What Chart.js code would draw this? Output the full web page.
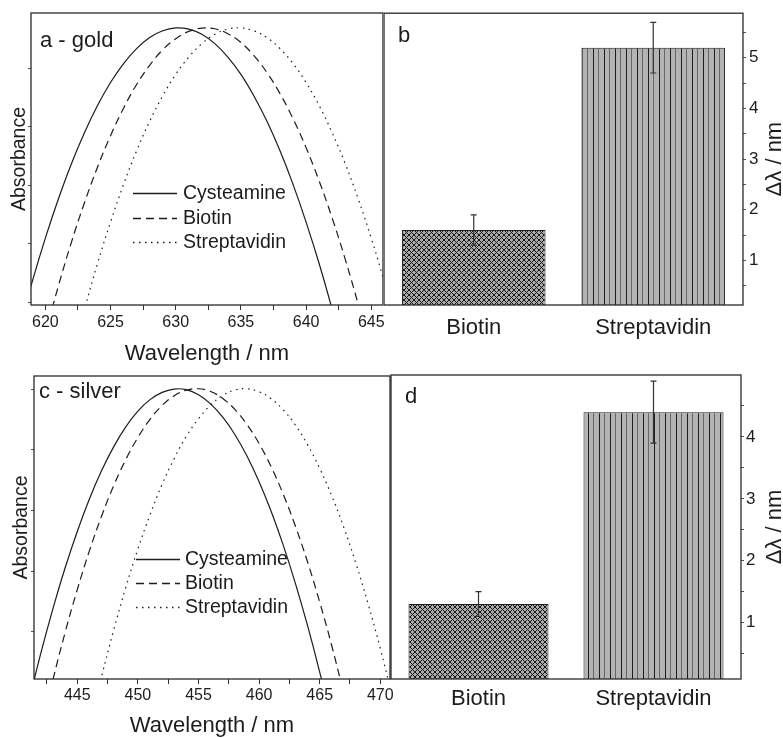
<!DOCTYPE html>
<html>
<head>
<meta charset="utf-8">
<title>Plasmon band shifts - gold and silver</title>
<script src="https://cdn.jsdelivr.net/npm/chart.js@4.4.0/dist/chart.umd.min.js"></script>
<style>
  html, body { margin:0; padding:0; background:#fff; }
  #wrap { position:relative; width:783px; height:738px; overflow:hidden; }
  canvas { position:absolute; }
</style>
</head>
<body>
<div id="wrap">
  <canvas id="goldSpec" width="392" height="370" style="left:0;top:0"></canvas>
  <canvas id="goldBars" width="399" height="370" style="left:384px;top:0"></canvas>
  <canvas id="silverSpec" width="400" height="368" style="left:0;top:370px"></canvas>
  <canvas id="silverBars" width="393" height="376" style="left:390px;top:362px"></canvas>
</div>
<script>
// ---- data ----
const seriesNames = ['Cysteamine', 'Biotin', 'Streptavidin'];

// gold spectra (absorbance, arbitrary units)
const goldWavelength = [618, 619, 620, 621, 622, 623, 624, 625, 626, 627, 628, 629, 630, 631, 632,
                        633, 634, 635, 636, 637, 638, 639, 640, 641, 642, 643, 644, 645, 646];
const goldCysteamine = [-0.081, 0.081, 0.229, 0.363, 0.484, 0.590, 0.683, 0.762, 0.827, 0.878, 0.916, 0.939, 0.949, 0.945, 0.927,
                        0.895, 0.849, 0.790, 0.716, 0.629, 0.528, 0.413, 0.284, 0.142, -0.015, -0.185, null, null, null];
const goldBiotin = [null, null, -0.098, 0.065, 0.215, 0.350, 0.472, 0.580, 0.674, 0.755, 0.821, 0.874, 0.912, 0.937, 0.948,
                    0.946, 0.929, 0.899, 0.854, 0.796, 0.724, 0.638, 0.539, 0.425, 0.298, 0.157, 0.002, -0.167, null];
const goldStreptavidin = [null, null, null, null, -0.185, -0.015, 0.142, 0.284, 0.413, 0.528, 0.629, 0.716, 0.790, 0.849, 0.895,
                          0.927, 0.945, 0.949, 0.939, 0.916, 0.878, 0.827, 0.762, 0.683, 0.590, 0.484, 0.363, 0.229, 0.081];
const goldXTicks = [620, 622.5, 625, 627.5, 630, 632.5, 635, 637.5, 640, 642.5, 645];
const goldYTicks = [0.01, 0.21, 0.41, 0.61, 0.81];

// silver spectra
const silverWavelength = [441, 442, 443, 444, 445, 446, 447, 448, 449, 450, 451, 452, 453, 454, 455, 456,
                          457, 458, 459, 460, 461, 462, 463, 464, 465, 466, 467, 468, 469, 470, 471];
const silverCysteamine = [-0.075, 0.086, 0.233, 0.367, 0.487, 0.594, 0.687, 0.766, 0.832, 0.884, 0.922, 0.946, 0.957, 0.955, 0.938, 0.908,
                          0.864, 0.807, 0.736, 0.651, 0.553, 0.441, 0.315, 0.176, 0.023, -0.144, null, null, null, null, null];
const silverBiotin = [null, -0.170, -0.001, 0.154, 0.295, 0.423, 0.537, 0.638, 0.724, 0.797, 0.857, 0.903, 0.935, 0.953, 0.958, 0.949,
                      0.926, 0.890, 0.840, 0.777, 0.700, 0.609, 0.504, 0.386, 0.254, 0.109, -0.050, null, null, null, null];
const silverStreptavidin = [null, null, null, null, null, -0.161, 0.007, 0.161, 0.302, 0.429, 0.542, 0.642, 0.728, 0.801, 0.859, 0.904,
                            0.936, 0.954, 0.958, 0.948, 0.925, 0.888, 0.838, 0.773, 0.695, 0.604, 0.499, 0.380, 0.247, 0.101, -0.059];
const silverXTicks = [442.5, 445, 447.5, 450, 452.5, 455, 457.5, 460, 462.5, 465, 467.5, 470];
const silverYTicks = [0.156, 0.356, 0.557, 0.757, 0.956];

// band shifts
const barCategories = ['Biotin', 'Streptavidin'];
const goldShift = [1.6, 5.2];
const goldShiftErr = [0.3, 0.5];
const goldShiftTicks = [0.5, 1, 1.5, 2, 2.5, 3, 3.5, 4, 4.5, 5, 5.5];
const silverShift = [1.3, 4.4];
const silverShiftErr = [0.2, 0.5];
const silverShiftTicks = [0.5, 1, 1.5, 2, 2.5, 3, 3.5, 4, 4.5];

const FONT = '"Liberation Sans", Arial, sans-serif';
const INK = '#1c1c1c';
Chart.defaults.font.family = FONT;
Chart.defaults.color = INK;
Chart.defaults.animation = false;

// ---- small plugins ----
const frame = {
  id: 'frame',
  afterDraw(chart) {
    const {ctx, chartArea: a} = chart;
    ctx.save();
    ctx.strokeStyle = '#2a2a2a'; ctx.lineWidth = 1.3;
    ctx.strokeRect(a.left, a.top, a.right - a.left, a.bottom - a.top);
    ctx.restore();
  }
};
const panelTag = {
  id: 'panelTag',
  afterDraw(chart, args, o) {
    if (!o.text) return;
    const {ctx, chartArea: a} = chart;
    ctx.save();
    ctx.font = '22px ' + FONT; ctx.fillStyle = INK; ctx.textBaseline = 'alphabetic';
    ctx.fillText(o.text, a.left + o.dx, a.top + o.dy);
    ctx.restore();
  }
};
const lineKey = {
  id: 'lineKey',
  afterDraw(chart, args, o) {
    if (!o.show) return;
    const {ctx, chartArea: a} = chart;
    let x = Math.round(a.left + o.dx), y = a.top + o.dy;
    ctx.save();
    ctx.font = '19.5px ' + FONT; ctx.textBaseline = 'middle'; ctx.fillStyle = INK;
    chart.data.datasets.forEach(ds => {
      const ly = Math.round(y) + 0.5;   // keep the key line crisp
      ctx.strokeStyle = ds.borderColor; ctx.lineWidth = 1.3;
      ctx.setLineDash(ds.borderDash || []);
      ctx.beginPath(); ctx.moveTo(x, ly); ctx.lineTo(x + 44, ly); ctx.stroke();
      ctx.fillText(ds.label, x + o.textGap, y + 1);
      y += o.rowGap;
    });
    ctx.restore();
  }
};
const errorBars = {
  id: 'errorBars',
  afterDatasetsDraw(chart, args, o) {
    if (!o.errors) return;
    const {ctx} = chart, y = chart.scales.y;
    const vals = chart.data.datasets[0].data;
    ctx.save();
    ctx.strokeStyle = '#333'; ctx.lineWidth = 1.2;
    chart.getDatasetMeta(0).data.forEach((bar, i) => {
      const top = y.getPixelForValue(vals[i] + o.errors[i]);
      const bot = y.getPixelForValue(vals[i] - o.errors[i]);
      ctx.beginPath();
      ctx.moveTo(bar.x, top); ctx.lineTo(bar.x, bot);
      ctx.moveTo(bar.x - 3, top); ctx.lineTo(bar.x + 3, top);
      ctx.moveTo(bar.x - 3, bot); ctx.lineTo(bar.x + 3, bot);
      ctx.stroke();
    });
    ctx.restore();
  }
};
// right-hand axis title reading bottom to top
const sideTitle = {
  id: 'sideTitle',
  afterDraw(chart, args, o) {
    if (!o.text) return;
    const {ctx} = chart, s = chart.scales.y;
    ctx.save();
    ctx.translate(s.right - o.offset, (s.top + s.bottom) / 2);
    ctx.rotate(-Math.PI / 2);
    ctx.font = '22px ' + FONT; ctx.fillStyle = INK;
    ctx.textAlign = 'center'; ctx.textBaseline = 'middle';
    ctx.fillText(o.text, 0, 0);
    ctx.restore();
  }
};
Chart.register(frame, panelTag, lineKey, errorBars, sideTitle);

// ---- bar fills ----
function crossHatch() {
  const c = document.createElement('canvas'); c.width = 5; c.height = 5;
  const g = c.getContext('2d');
  g.fillStyle = '#ababab'; g.fillRect(0, 0, 5, 5);
  g.strokeStyle = '#161616'; g.lineWidth = 1;
  g.beginPath();
  g.moveTo(-1, -1); g.lineTo(6, 6);
  g.moveTo(6, -1); g.lineTo(-1, 6);
  g.stroke();
  return g.createPattern(c, 'repeat');
}
function stripes() {
  const c = document.createElement('canvas'); c.width = 11; c.height = 4;
  const g = c.getContext('2d');
  g.fillStyle = '#b3b3b3'; g.fillRect(0, 0, 11, 4);
  g.fillStyle = '#1e1e1e'; g.fillRect(0, 0, 1, 4);
  g.fillStyle = '#666'; g.fillRect(5, 0, 1, 4);
  return g.createPattern(c, 'repeat');
}

function specChart(id, wl, values, o) {
  const dashes = [[], [8, 5], [1.5, 4.5]];
  return new Chart(document.getElementById(id), {
    type: 'line',
    data: {
      datasets: values.map((v, k) => ({
        label: seriesNames[k],
        data: wl.map((x, i) => ({x, y: v[i]})),
        borderColor: INK, borderWidth: 1.2, borderDash: dashes[k],
        pointRadius: 0, tension: 0.4, fill: false
      }))
    },
    options: {
      responsive: false,
      layout: { padding: o.pad },
      plugins: {
        legend: { display: false }, tooltip: { enabled: false },
        panelTag: o.tag, lineKey: o.key
      },
      scales: {
        x: {
          type: 'linear', min: o.xMin, max: o.xMax,
          afterBuildTicks: s => { s.ticks = o.xTicks.map(v => ({value: v})); },
          afterFit: s => { s.height = o.xH; },
          ticks: { font: {size: 16}, padding: o.xPad, autoSkip: false, maxRotation: 0,
                   callback: v => v % 5 === 0 ? String(v) : '' },
          grid: { drawOnChartArea: false, tickLength: 5, color: '#333' },
          border: { display: false },
          title: { display: true, text: 'Wavelength / nm', font: {size: 22, lineHeight: o.titleLH},
                   padding: {top: 0, bottom: o.titlePad} }
        },
        y: {
          min: 0, max: 1,
          afterBuildTicks: s => { s.ticks = o.yTicks.map(v => ({value: v})); },
          afterFit: s => { s.width = o.yW; },
          ticks: { display: false },
          grid: { drawOnChartArea: false, tickLength: 3, color: '#555' },
          border: { display: false },
          title: { display: true, text: 'Absorbance', font: {size: 19.5}, padding: {top: o.yTitlePad, bottom: 0} }
        }
      }
    }
  });
}

function barChart(id, vals, errs, o) {
  return new Chart(document.getElementById(id), {
    type: 'bar',
    data: {
      labels: barCategories,
      datasets: [{ data: vals, backgroundColor: [crossHatch(), stripes()], borderColor: '#1e1e1e', borderWidth: 1,
                   barPercentage: 0.8, categoryPercentage: 1 }]
    },
    options: {
      responsive: false,
      layout: { padding: o.pad },
      plugins: {
        legend: { display: false }, tooltip: { enabled: false },
        panelTag: o.tag, errorBars: { errors: errs }, sideTitle: { text: 'Δλ / nm', offset: o.titleOffset }
      },
      scales: {
        x: {
          grid: { display: false, drawTicks: false }, border: { display: false },
          ticks: { font: {size: 22}, padding: o.xPad },
          afterFit: s => { s.height = o.xH; }
        },
        y: {
          position: 'right', min: o.yMin, max: o.yMax,
          afterBuildTicks: s => { s.ticks = o.yTicks.map(v => ({value: v})); },
          afterFit: s => { s.width = o.yW; },
          ticks: { font: {size: 17}, padding: o.yPad, callback: v => Number.isInteger(v) ? String(v) : '' },
          grid: { drawOnChartArea: false, tickLength: 3, color: '#555' },
          border: { display: false }
        }
      }
    }
  });
}

specChart('goldSpec', goldWavelength, [goldCysteamine, goldBiotin, goldStreptavidin], {
  pad: {top: 13, right: 9, left: 0, bottom: 0},
  xMin: 618.9, xMax: 645.9, xTicks: goldXTicks, yTicks: goldYTicks,
  xH: 65, xPad: 3, titleLH: 1.2, titlePad: 3, yW: 31, yTitlePad: 8,
  tag: {text: 'a - gold', dx: 9, dy: 34},
  key: {show: true, dx: 102, dy: 180, rowGap: 24.5, textGap: 50}
});
barChart('goldBars', goldShift, goldShiftErr, {
  pad: {top: 13, right: 0, left: 0, bottom: 0},
  yMin: 0.12, yMax: 5.88, yTicks: goldShiftTicks, yW: 40, yPad: 3, xH: 65, xPad: 10,
  titleOffset: 8, tag: {text: 'b', dx: 14, dy: 29}
});
specChart('silverSpec', silverWavelength, [silverCysteamine, silverBiotin, silverStreptavidin], {
  pad: {top: 6, right: 10, left: 0, bottom: 0},
  xMin: 441.43, xMax: 470.8, xTicks: silverXTicks, yTicks: silverYTicks,
  xH: 59, xPad: 2, titleLH: 1.1, titlePad: 0, yW: 34, yTitlePad: 10,
  tag: {text: 'c - silver', dx: 5, dy: 22},
  key: {show: true, dx: 102, dy: 183, rowGap: 24, textGap: 49}
});
barChart('silverBars', silverShift, silverShiftErr, {
  pad: {top: 13, right: 0, left: 1, bottom: 0},
  yMin: 0.09, yMax: 5.0, yTicks: silverShiftTicks, yW: 42, yPad: 2, xH: 59, xPad: 7,
  titleOffset: 8, tag: {text: 'd', dx: 14, dy: 28}
});
</script>
</body>
</html>
